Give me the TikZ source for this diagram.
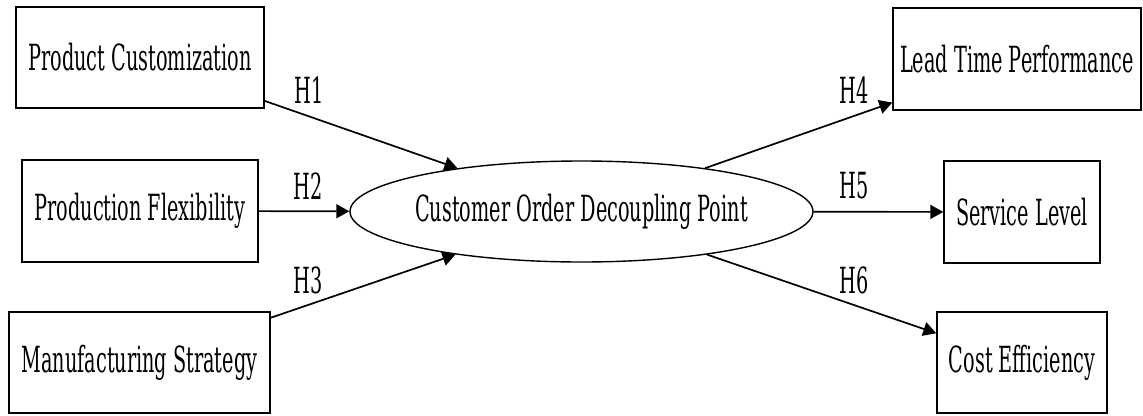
\documentclass[tikz,border=0pt]{standalone}
\usepackage{fontspec}
\setmainfont{DejaVu Serif}
\usetikzlibrary{shapes.geometric,arrows.meta}
\newcommand{\sq}[1]{\scalebox{0.535}[1]{#1}}
\begin{document}
\begin{tikzpicture}[x=1pt,y=-1pt,
  every node/.style={font=\fontsize{36}{40}\selectfont, inner sep=0pt},
  box/.style={draw, line width=1.4pt, rectangle},
  oval/.style={draw, line width=1.4pt, ellipse},
  conn/.style={line width=1.7pt, -{Triangle[length=13pt,width=14pt]}},
  hlab/.style={}]
\useasboundingbox (0,0) rectangle (1143,415);
\node[box, minimum width=248pt, minimum height=101pt] (pc) at (140,57.5) {\sq{Product Customization}};
\node[box, minimum width=236pt, minimum height=102pt] (pf) at (140,211) {\sq{Production Flexibility}};
\node[box, minimum width=261pt, minimum height=101pt] (ms) at (139.5,362.5) {\sq{Manufacturing Strategy}};
\node[oval, minimum width=463pt, minimum height=101pt] (cod) at (581.5,211.5) {\makebox[0pt]{\sq{Customer Order Decoupling Point}}};
\node[box, minimum width=248pt, minimum height=102pt] (lt) at (1017,59) {\sq{Lead Time Performance}};
\node[box, minimum width=156pt, minimum height=102pt] (sl) at (1022,212) {\sq{Service Level}};
\node[box, minimum width=170pt, minimum height=101pt] (ce) at (1022,362.5) {\sq{Cost Efficiency}};
\draw[conn] (pc) -- (cod);
\draw[conn] (pf) -- (cod);
\draw[conn] (ms) -- (cod);
\draw[conn] (cod) -- (lt);
\draw[conn] (cod) -- (sl);
\draw[conn] (cod) -- (ce);
\node[hlab] (h1) at (309,90) {\sq{H1}};
\node[hlab] (h2) at (308,186) {\sq{H2}};
\node[hlab] (h3) at (308,280) {\sq{H3}};
\node[hlab] (h4) at (854,90) {\sq{H4}};
\node[hlab] (h5) at (854,186) {\sq{H5}};
\node[hlab] (h6) at (854,280) {\sq{H6}};
\end{tikzpicture}
\end{document}
